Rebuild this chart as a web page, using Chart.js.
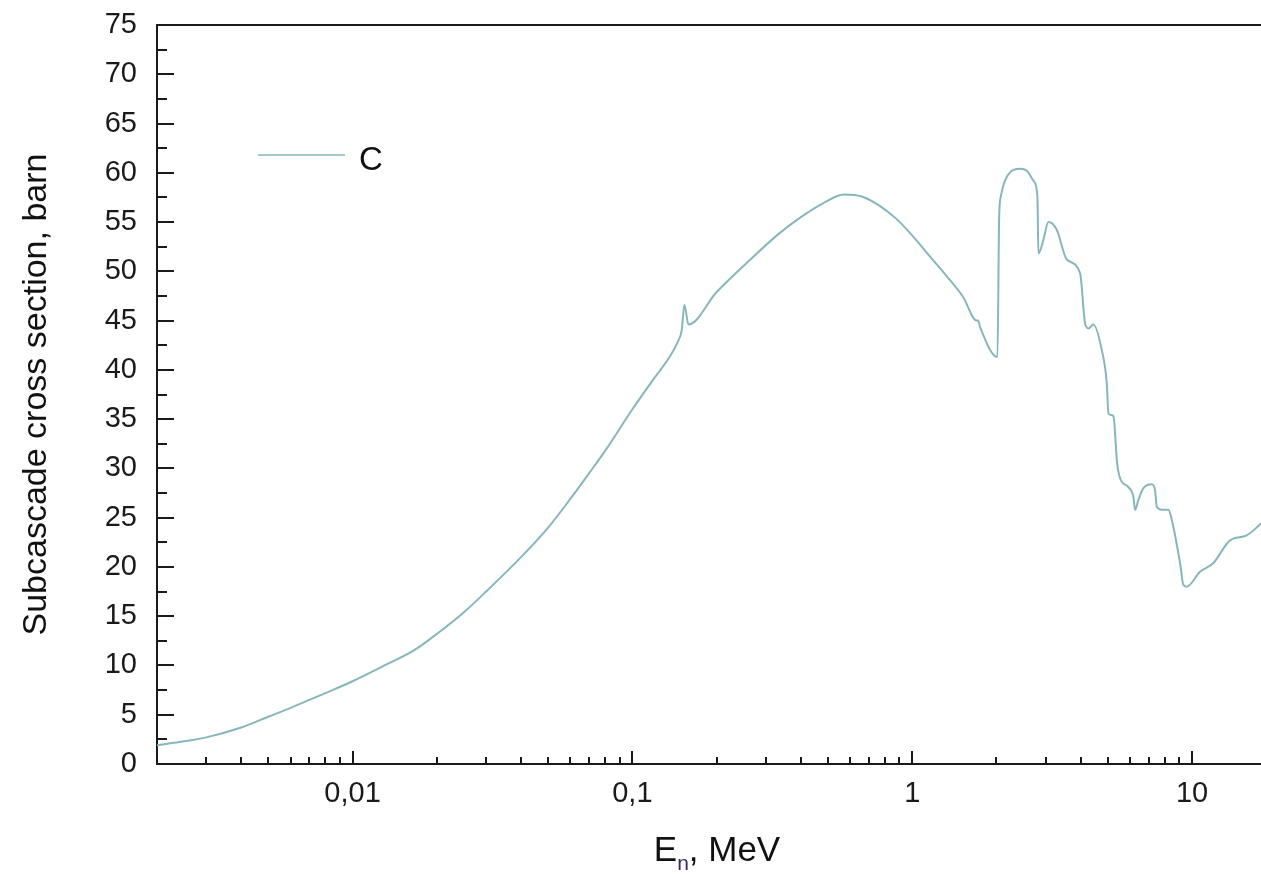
<!DOCTYPE html>
<html>
<head>
<meta charset="utf-8">
<script src="https://cdn.jsdelivr.net/npm/chart.js@4"></script>
<style>
  html, body { margin: 0; padding: 0; background: #fff; overflow: hidden; }
  #wrap { width: 1261px; height: 874px; }
</style>
</head>
<body>
<div id="wrap"><canvas id="grafico"></canvas></div>
<script>
// energy in MeV, cross section in barn
const energias = [
  0.002, 0.0025, 0.003, 0.004, 0.005, 0.006, 0.007, 0.008, 0.01, 0.013,
  0.0165, 0.02, 0.025, 0.03, 0.04, 0.05, 0.06, 0.07, 0.08, 0.1,
  0.12, 0.135, 0.145, 0.150, 0.1534, 0.1586, 0.2, 0.264, 0.33, 0.40,
  0.48, 0.57, 0.66, 0.77, 0.88, 1.01, 1.15, 1.33, 1.52, 1.70,
  1.72, 1.75, 2.017, 2.045, 2.074, 2.179, 2.431, 2.568, 2.727, 2.802,
  2.825, 2.944, 3.067, 3.287, 3.568, 3.981, 4.148, 4.262, 4.442, 4.760,
  4.960, 5.025, 5.236, 5.40, 5.532, 5.924, 6.172, 6.259, 6.431, 6.701,
  7.180, 7.378, 7.481, 7.795, 8.230, 8.463, 9.061, 9.309, 9.574, 10.68,
  11.92, 13.67, 15.68, 17.64
];
const secaoC = [
  1.9, 2.3, 2.7, 3.7, 4.8, 5.7, 6.5, 7.2, 8.4, 10.0,
  11.5, 13.2, 15.4, 17.5, 21.0, 24.0, 26.9, 29.5, 31.8, 36.0,
  39.2, 41.2, 42.8, 44.0, 46.6, 44.6, 47.9, 51.2, 53.7, 55.5,
  56.9, 57.8, 57.6, 56.6, 55.3, 53.5, 51.6, 49.5, 47.4, 45.0,
  45.0, 44.3, 41.3, 55.5, 57.6, 59.6, 60.4, 60.2, 59.1, 57.6,
  51.8, 53.2, 55.0, 54.2, 51.2, 49.8, 44.7, 44.2, 44.6, 42.0,
  38.6, 35.6, 35.3, 30.5, 29.0, 28.1, 27.1, 25.8, 26.8, 28.0,
  28.4, 27.8, 26.1, 25.8, 25.8, 24.8, 20.4, 18.2, 18.0, 19.5,
  20.4, 22.7, 23.2, 24.4
];
const rotuloSerie = "C";
const xMin = 0.002;
const xMax = 17.64;
const yMin = 0;
const yMax = 75;
const yPasso = 2.5;

const corLinha = "#86b7bb";
const fonte = "'Liberation Sans', Arial, sans-serif";

const pontos = energias.map((e, i) => ({ x: e, y: secaoC[i] }));

function formatarDecada(valor) {
  const exp = Math.round(Math.log10(valor));
  if (exp < 0) return "0," + "0".repeat(-exp - 1) + "1";
  return String(Math.pow(10, exp));
}

function ehDecada(valor) {
  const l = Math.log10(valor);
  return Math.abs(l - Math.round(l)) < 1e-6;
}

// ticks drawn inside the frame, plus top border, titles and legend
const molduraPlugin = {
  id: "moldura",
  afterDraw(chart) {
    const ctx = chart.ctx;
    const area = chart.chartArea;
    const sx = chart.scales.x;
    const sy = chart.scales.y;

    ctx.save();
    ctx.strokeStyle = "#1a1a1a";
    ctx.lineWidth = 2;

    ctx.beginPath();
    ctx.moveTo(area.left - 1, area.top);
    ctx.lineTo(chart.width, area.top);
    ctx.stroke();

    sx.ticks.forEach(t => {
      const v = t.value;
      const exp = Math.floor(Math.log10(v) + 1e-9);
      const mant = v / Math.pow(10, exp);
      if (Math.abs(mant - Math.round(mant)) > 1e-6) return;
      const px = Math.round(sx.getPixelForValue(v));
      if (px <= area.left + 1 || px >= area.right) return;
      const len = ehDecada(v) ? 13 : 7;
      ctx.beginPath();
      ctx.moveTo(px, area.bottom);
      ctx.lineTo(px, area.bottom - len);
      ctx.stroke();
    });

    sy.ticks.forEach(t => {
      const py = Math.round(sy.getPixelForValue(t.value));
      if (py <= area.top + 1 || py >= area.bottom - 1) return;
      const len = t.value % 5 === 0 ? 17 : 10;
      ctx.beginPath();
      ctx.moveTo(area.left, py);
      ctx.lineTo(area.left + len, py);
      ctx.stroke();
    });

    // legend
    ctx.strokeStyle = corLinha;
    ctx.lineWidth = 1.5;
    ctx.beginPath();
    ctx.moveTo(area.left + 101, area.top + 130);
    ctx.lineTo(area.left + 188, area.top + 130);
    ctx.stroke();
    ctx.fillStyle = "#111";
    ctx.font = "33px " + fonte;
    ctx.textBaseline = "alphabetic";
    ctx.textAlign = "left";
    ctx.fillText(rotuloSerie, area.left + 202, area.top + 145);

    // y title
    ctx.save();
    ctx.translate(37, (area.top + area.bottom) / 2);
    ctx.rotate(-Math.PI / 2);
    ctx.font = "34px " + fonte;
    ctx.textAlign = "center";
    ctx.textBaseline = "middle";
    ctx.fillStyle = "#111";
    ctx.fillText("Subcascade cross section, barn", 0, 0);
    ctx.restore();

    // x title with subscript
    const base = 861;
    ctx.font = "35px " + fonte;
    const wE = ctx.measureText("E").width;
    const wResto = ctx.measureText(", MeV").width;
    ctx.font = "21px " + fonte;
    const wN = ctx.measureText("n").width;
    const total = wE + wN + wResto;
    let x0 = (area.left + area.right) / 2 - total / 2 + 8;
    ctx.fillStyle = "#111";
    ctx.textAlign = "left";
    ctx.textBaseline = "alphabetic";
    ctx.font = "35px " + fonte;
    ctx.fillText("E", x0, base);
    ctx.font = "21px " + fonte;
    ctx.fillStyle = "#3a2a6a";
    ctx.fillText("n", x0 + wE, base + 9);
    ctx.fillStyle = "#111";
    ctx.font = "35px " + fonte;
    ctx.fillText(", MeV", x0 + wE + wN, base);

    ctx.restore();
  }
};

const grafico = new Chart(document.getElementById("grafico"), {
  type: "line",
  data: {
    datasets: [
      {
        label: rotuloSerie,
        data: pontos,
        borderColor: corLinha,
        borderWidth: 2,
        pointRadius: 0,
        cubicInterpolationMode: "monotone",
        fill: false
      }
    ]
  },
  options: {
    responsive: true,
    maintainAspectRatio: false,
    animation: false,
    layout: { padding: { top: 25, right: 0, bottom: 0, left: 0 } },
    plugins: {
      legend: { display: false },
      tooltip: { enabled: false }
    },
    scales: {
      x: {
        type: "logarithmic",
        min: xMin,
        max: xMax,
        grid: { display: false, drawTicks: false },
        border: { display: true, color: "#1a1a1a", width: 2 },
        ticks: {
          autoSkip: false,
          maxRotation: 0,
          padding: 13,
          color: "#1a1a1a",
          font: { family: fonte, size: 29 },
          callback: function (valor) {
            return ehDecada(valor) ? formatarDecada(valor) : "";
          }
        },
        afterFit: function (escala) {
          escala.height = 110;
          escala.paddingLeft = 0;
          escala.paddingRight = 0;
        }
      },
      y: {
        min: yMin,
        max: yMax,
        grid: { display: false, drawTicks: false },
        border: { display: true, color: "#1a1a1a", width: 2 },
        ticks: {
          stepSize: yPasso,
          autoSkip: false,
          padding: 20,
          color: "#1a1a1a",
          font: { family: fonte, size: 29 },
          callback: function (valor) {
            return valor % 5 === 0 ? String(valor) : "";
          }
        },
        afterFit: function (escala) {
          escala.width = 157;
          escala.paddingTop = 0;
          escala.paddingBottom = 0;
        }
      }
    }
  },
  plugins: [molduraPlugin]
});
</script>
</body>
</html>
